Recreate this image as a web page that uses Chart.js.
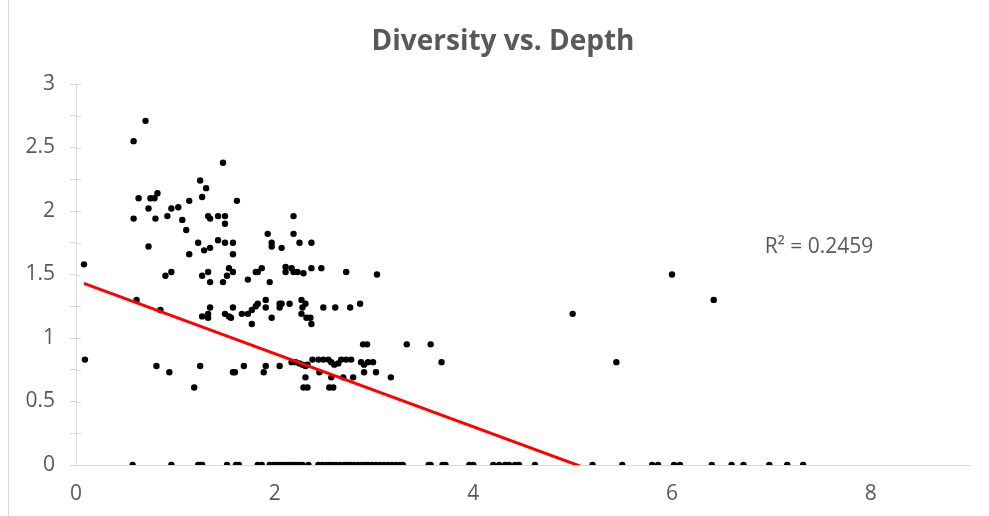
<!DOCTYPE html>
<html>
<head>
<meta charset="utf-8">
<script src="https://cdn.jsdelivr.net/npm/chart.js@4.4.1/dist/chart.umd.min.js"></script>
<style>
    body { margin: 0; background: #fff; }
    #wrap { position: relative; width: 989px; height: 516px; }
    #frame { position: absolute; left: 8px; top: 0; width: 1px; height: 516px; background: #d9d9d9; }
</style>
</head>
<body>
<div id="wrap">
    <canvas id="scatterChart" width="989" height="516"></canvas>
    <div id="frame"></div>
</div>
<script>
// [depth, diversity] pairs
const highBand = [
    [0.08,1.58],[0.58,2.55],[0.70,2.71],[0.58,1.94],[0.63,2.10],[0.73,2.02],[0.75,2.10],[0.79,2.10],
    [0.82,2.14],[0.80,1.94],[0.73,1.72],[0.92,1.96],[0.96,2.02],[1.03,2.03],[1.07,1.93],[1.11,1.85],
    [1.14,2.08],[1.14,1.66],[0.90,1.49],[0.96,1.52],[1.23,1.75],[1.25,2.24],[1.27,2.11],[1.31,2.18],
    [1.33,1.96],[1.35,1.94],[1.29,1.69],[1.35,1.71],[1.27,1.49],[1.33,1.52],[1.35,1.44],[1.43,1.96],
    [1.43,1.77],[1.48,2.38],[1.50,1.96],[1.50,1.90],[1.50,1.75],[1.58,1.75],[1.58,1.66],[1.62,2.08],
    [1.54,1.55],[1.58,1.52],[1.52,1.49],[1.48,1.44],[1.73,1.46],[1.81,1.52],[1.83,1.52],[1.87,1.55],
    [1.93,1.82],[1.97,1.75],[1.97,1.72],[2.07,1.71],[1.95,1.44],[2.19,1.96],[2.19,1.82],[2.25,1.75],
    [2.37,1.75],[2.11,1.56],[2.11,1.52],[2.17,1.55],[2.19,1.52],[2.23,1.52],[2.29,1.51],[2.37,1.55],
    [2.47,1.55],[2.72,1.52],[3.03,1.50],[6.00,1.50]
];
const midBand = [
    [0.61,1.30],[0.85,1.22],[1.27,1.17],[1.35,1.24],[1.33,1.19],[1.33,1.16],[1.50,1.19],[1.54,1.17],
    [1.56,1.16],[1.58,1.24],[1.67,1.19],[1.73,1.19],[1.77,1.22],[1.77,1.11],[1.81,1.25],[1.83,1.27],
    [1.91,1.30],[1.91,1.24],[1.97,1.16],[2.05,1.27],[2.05,1.24],[2.07,1.27],[2.15,1.27],[2.27,1.30],
    [2.27,1.19],[2.31,1.27],[2.28,1.24],[2.32,1.16],[2.36,1.16],[2.37,1.11],[2.49,1.24],[2.61,1.24],
    [2.76,1.24],[2.86,1.27],[5.00,1.19],[6.42,1.30]
];
const lowBand = [
    [0.09,0.83],[0.81,0.78],[0.94,0.73],[1.19,0.61],[1.25,0.78],[1.58,0.73],[1.60,0.73],[1.69,0.78],
    [1.89,0.73],[1.91,0.78],[2.05,0.78],[2.17,0.81],[2.21,0.81],[2.25,0.80],[2.28,0.79],[2.31,0.78],
    [2.33,0.79],[2.31,0.69],[2.29,0.61],[2.33,0.61],[2.38,0.83],[2.44,0.83],[2.49,0.83],[2.54,0.83],
    [2.57,0.81],[2.60,0.79],[2.64,0.80],[2.67,0.83],[2.72,0.83],[2.77,0.83],[2.87,0.81],[2.90,0.79],
    [2.94,0.81],[2.99,0.81],[2.45,0.73],[2.57,0.69],[2.69,0.69],[2.79,0.69],[2.90,0.73],[3.02,0.73],
    [3.17,0.69],[2.55,0.61],[2.59,0.61],[2.89,0.95],[2.93,0.95],[3.33,0.95],[3.57,0.95],[3.68,0.81],
    [5.44,0.81]
];
// depths where diversity is 0
const zeroDepths = [
    0.57,0.96,1.23,1.25,1.27,1.52,1.61,1.64,1.83,1.87,1.95,1.99,2.02,2.05,2.08,2.11,2.14,2.17,2.20,
    2.23,2.26,2.28,2.34,2.44,2.48,2.52,2.55,2.58,2.62,2.66,2.70,2.73,2.76,2.80,2.84,2.88,2.91,2.94,
    2.98,3.02,3.06,3.10,3.14,3.18,3.22,3.26,3.29,3.55,3.57,3.69,3.72,3.96,4.00,4.20,4.26,4.32,4.36,
    4.42,4.46,4.62,5.20,5.50,5.80,5.86,6.02,6.08,6.40,6.60,6.72,6.98,7.16,7.32
];
// linear trendline end points
const trendDepth = [0.08, 7.32];
const trendDiversity = [1.43, -0.655];
const rSquaredText = 'R² = 0.2459';
const chartTitle = 'Diversity vs. Depth';

const textColor = '#595959';
const axisColor = '#d9d9d9';
const fontFamily = '"Open Sans", Lato, sans-serif';

const points = highBand.concat(midBand, lowBand).map(p => ({x: p[0], y: p[1]}))
    .concat(zeroDepths.map(d => ({x: d, y: 0})));
const trendPoints = trendDepth.map((d, i) => ({x: d, y: trendDiversity[i]}));

// title (Excel centres it a bit right of the canvas), cross ticks on y, R² label
const extrasPlugin = {
    id: 'extras',
    afterDraw(chart) {
        const ctx = chart.ctx;
        const y = chart.scales.y;
        const x = chart.scales.x;
        ctx.save();
        ctx.strokeStyle = axisColor;
        ctx.lineWidth = 1;
        y.ticks.forEach(t => {
            const py = Math.round(y.getPixelForValue(t.value)) + 0.5;
            ctx.beginPath();
            ctx.moveTo(chart.chartArea.left, py);
            ctx.lineTo(chart.chartArea.left + 5, py);
            ctx.stroke();
        });
        ctx.fillStyle = textColor;
        ctx.textAlign = 'center';
        ctx.textBaseline = 'middle';
        ctx.font = 'bold 28px ' + fontFamily;
        ctx.fillText(chartTitle, 503, 42);
        ctx.font = '21px ' + fontFamily;
        ctx.fillText(rSquaredText, x.getPixelForValue(7.48), y.getPixelForValue(1.72));
        ctx.restore();
    }
};

new Chart('scatterChart', {
    type: 'scatter',
    data: {
        datasets: [
            {
                type: 'line',
                label: 'Trend',
                data: trendPoints,
                borderColor: '#ff0000',
                borderWidth: 3,
                pointRadius: 0,
                fill: false,
                clip: 0,
                order: 0
            },
            {
                label: 'Diversity',
                data: points,
                backgroundColor: '#000000',
                pointRadius: 3.2,
                pointBorderWidth: 0,
                order: 1
            }
        ]
    },
    options: {
        responsive: false,
        animation: false,
        layout: { padding: { left: 0, right: 19, top: 84, bottom: 11 } },
        plugins: {
            legend: { display: false },
            tooltip: { enabled: false },
            title: { display: false }
        },
        scales: {
            x: {
                type: 'linear',
                min: 0,
                max: 9,
                grid: { display: false, drawTicks: false },
                border: { display: true, color: axisColor, width: 1 },
                ticks: {
                    stepSize: 2,
                    includeBounds: false,
                    padding: 16,
                    color: textColor,
                    font: { family: fontFamily, size: 21 }
                },
                afterFit: scale => { scale.height = 40; }
            },
            y: {
                min: 0,
                max: 3,
                grid: { display: true, drawOnChartArea: false, drawTicks: true, tickLength: 6, color: axisColor },
                border: { display: true, color: axisColor, width: 1 },
                ticks: {
                    stepSize: 0.25,
                    padding: 15,
                    color: textColor,
                    font: { family: fontFamily, size: 21 },
                    callback: v => (v % 0.5 === 0 ? String(v) : '')
                },
                afterFit: scale => { scale.width = 76; }
            }
        }
    },
    plugins: [extrasPlugin]
});
</script>
</body>
</html>
